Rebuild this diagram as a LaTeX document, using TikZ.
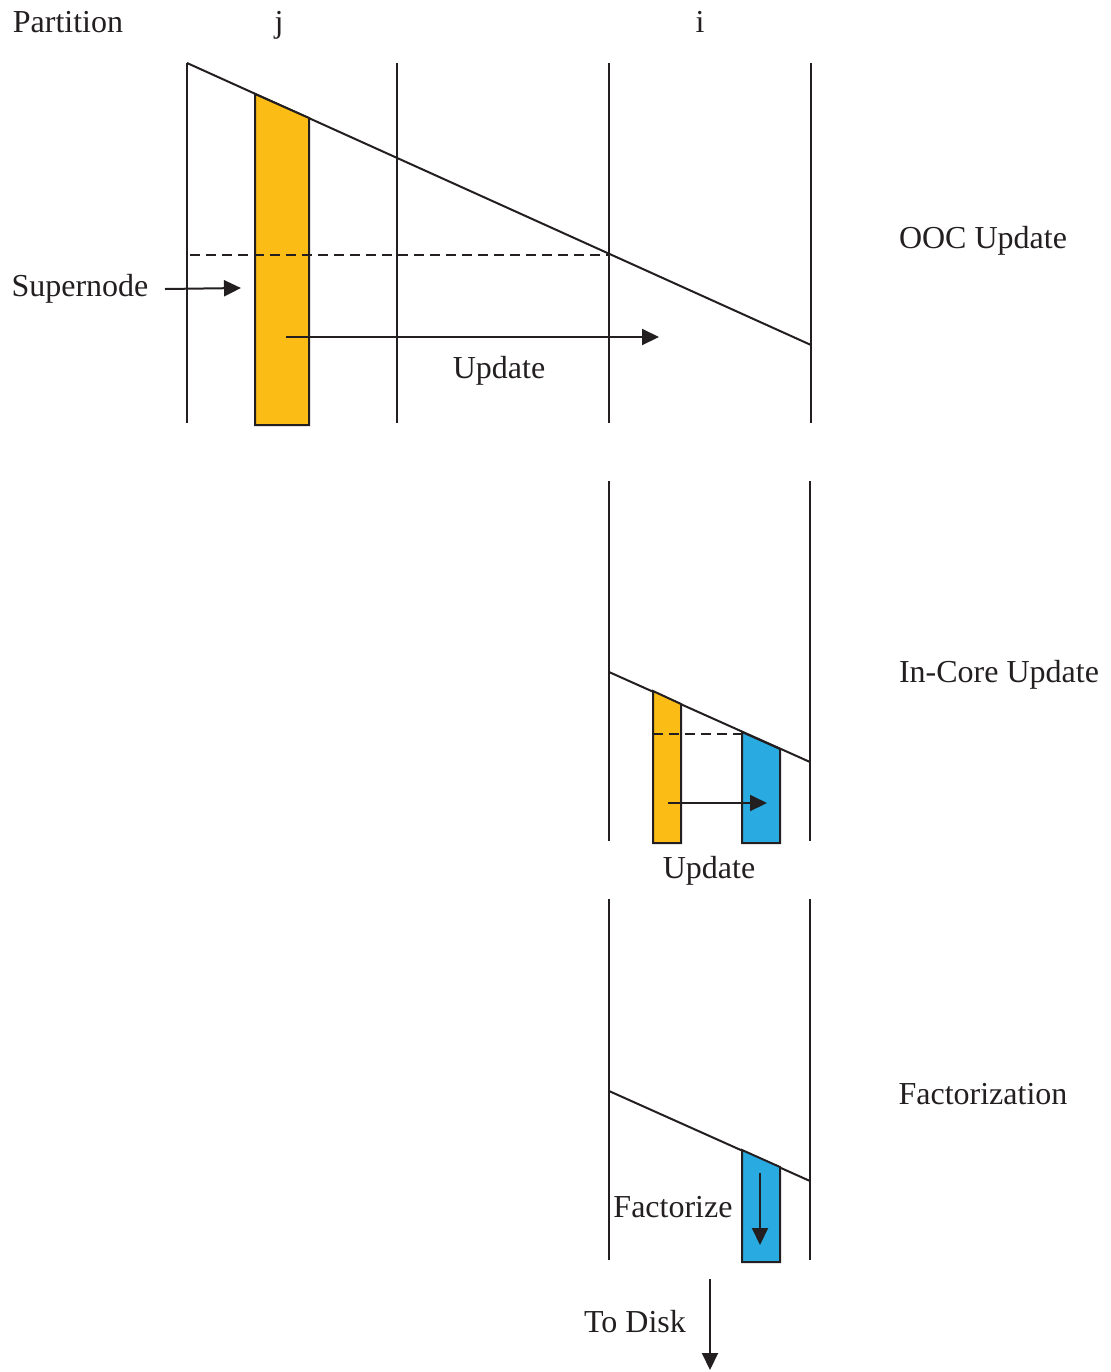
\documentclass[tikz,border=0pt]{standalone}
\usepackage{fontspec}
\setmainfont{Liberation Serif}
\usetikzlibrary{arrows.meta}
\definecolor{supyellow}{HTML}{FBBC15}
\definecolor{blkblue}{HTML}{29ABE2}
\definecolor{inkgrey}{HTML}{231F20}

\begin{document}
\begin{tikzpicture}[x=0.5pt, y=-0.5pt, line width=1pt, draw=inkgrey,
    >={Triangle[length=8.5pt,width=8pt]},
    font=\fontsize{16}{19}\selectfont, text=inkgrey,
    lbl/.style={inner sep=0pt, anchor=base},
    blk/.style={draw=inkgrey, line width=1pt}]
  \useasboundingbox (0,0) rectangle (1111,1372);
  % ---- header ----
  \node[lbl] (part) at (68,32) {Partition};
  \node[lbl] (pj) at (279,32) {j};
  \node[lbl] (pi) at (700,32) {i};
  % ---- OOC update ----
  \foreach \x in {187,397,609,811} \draw (\x,63) -- (\x,423);
  \draw (187,63) -- (811,345);
  \filldraw[blk, fill=supyellow] (255,94) -- (309,118) -- (309,425) -- (255,425) -- cycle;
  \draw[dashed, dash pattern=on 5pt off 3pt, line width=0.7pt] (190,255) -- (609,255);
  \node[lbl] (snode) at (80,296) {Supernode};
  \coordinate (snodetip) at (241,288);
  \draw[->] (165,289) -- (snodetip);
  \coordinate (updstart) at (286,337);
  \coordinate (updend) at (659,337);
  \draw[->] (updstart) -- (updend);
  \node[lbl] (upd) at (499,378) {Update};
  \node[lbl] (ooc) at (983,248) {OOC Update};
  % ---- in-core update ----
  \foreach \x in {609,810} \draw (\x,481) -- (\x,841);
  \draw (609,672) -- (810,762);
  \filldraw[blk, fill=supyellow] (653,691) -- (681,704) -- (681,843) -- (653,843) -- cycle;
  \filldraw[blk, fill=blkblue] (742,732) -- (780,749) -- (780,843) -- (742,843) -- cycle;
  \draw[dashed, dash pattern=on 5pt off 3pt, line width=0.7pt] (653,734) -- (742,734);
  \coordinate (icstart) at (668,803);
  \coordinate (icend) at (767,803);
  \draw[->] (icstart) -- (icend);
  \node[lbl] (icupd) at (709,878) {Update};
  \node[lbl] (incore) at (999,682) {In-Core Update};
  % ---- factorization ----
  \foreach \x in {609,810} \draw (\x,899) -- (\x,1260);
  \draw (609,1091) -- (810,1181);
  \filldraw[blk, fill=blkblue] (742,1150) -- (780,1167) -- (780,1262) -- (742,1262) -- cycle;
  \coordinate (fstart) at (760,1173);
  \coordinate (fend) at (760,1245);
  \draw[->] (fstart) -- (fend);
  \node[lbl] (fact) at (673,1217) {Factorize};
  \node[lbl] (factz) at (983,1104) {Factorization};
  % ---- to disk ----
  \coordinate (dstart) at (710,1279);
  \coordinate (dend) at (710,1370);
  \draw[->] (dstart) -- (dend);
  \node[lbl] (disk) at (635,1332) {To Disk};
\end{tikzpicture}
\end{document}
